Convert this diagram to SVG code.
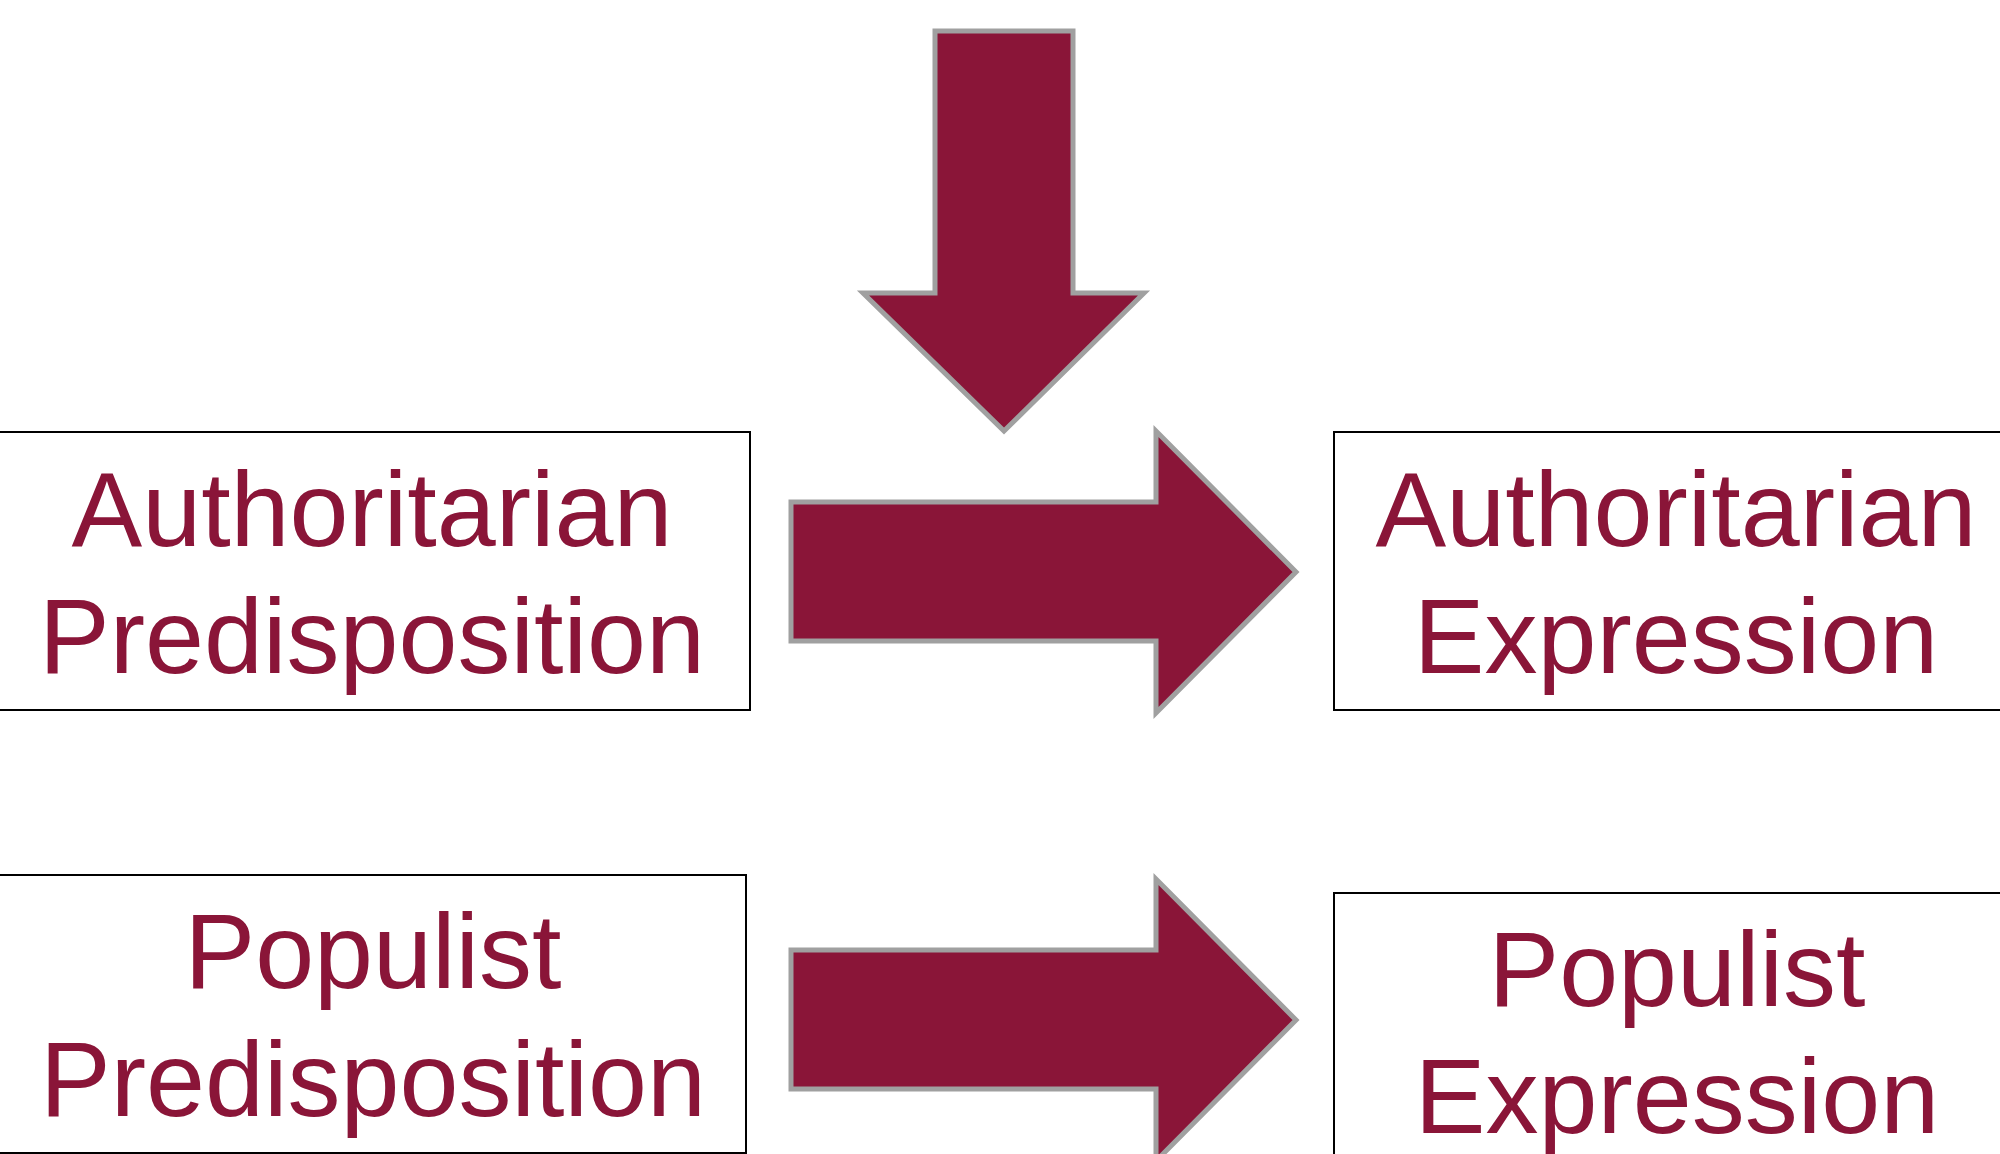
<svg xmlns="http://www.w3.org/2000/svg" width="2000" height="1154" viewBox="0 0 2000 1154">
<style>
.box{fill:#fff;stroke:#000;stroke-width:2}
.lbl{font-family:"Liberation Sans",Arial,sans-serif;font-size:106px;fill:#8A1538;text-anchor:middle}
.arr{fill:#8A1538;stroke:#A0A0A0;stroke-width:5;stroke-linejoin:miter}
</style>
<rect width="2000" height="1154" fill="#fff"/>
<g id="connectors">
<polygon class="arr" points="935,31 1073,31 1073,293 1144,293 1004,431 863,293 935,293"/>
<polygon class="arr" points="791,502 1156,502 1156,431 1296,572 1156,713 1156,641 791,641"/>
<polygon class="arr" points="791,950 1156,950 1156,879 1296,1020 1156,1161 1156,1089 791,1089"/>
</g>
<g id="auth-pred">
<rect class="box" x="-10" y="432" width="760" height="278"/>
<text class="lbl" x="372" y="546">Authoritarian</text>
<text class="lbl" x="372" y="673">Predisposition</text>
</g>
<g id="auth-expr">
<rect class="box" x="1334" y="432" width="700" height="278"/>
<text class="lbl" x="1676" y="546">Authoritarian</text>
<text class="lbl" x="1676" y="673">Expression</text>
</g>
<g id="pop-pred">
<rect class="box" x="-10" y="875" width="756" height="278"/>
<text class="lbl" x="373" y="988">Populist</text>
<text class="lbl" x="373" y="1116">Predisposition</text>
</g>
<g id="pop-expr">
<rect class="box" x="1334" y="893" width="700" height="300"/>
<text class="lbl" x="1677" y="1006">Populist</text>
<text class="lbl" x="1677" y="1133">Expression</text>
</g>
</svg>
